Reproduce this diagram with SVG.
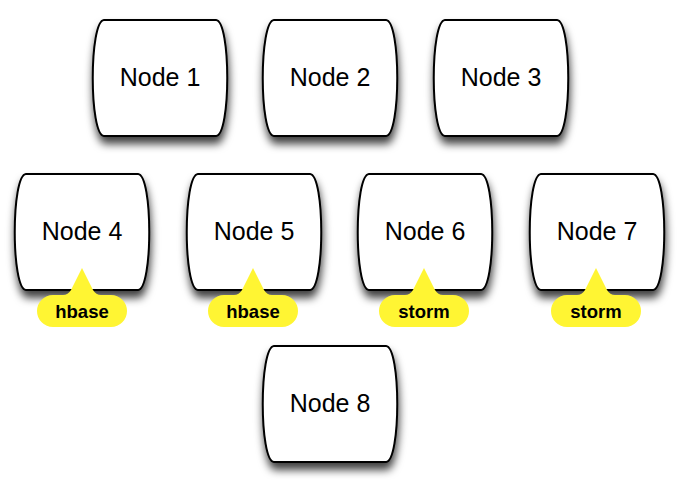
<svg xmlns="http://www.w3.org/2000/svg" width="684" height="492" viewBox="0 0 684 492">
<defs>
<filter id="sh" x="-20%" y="-20%" width="140%" height="150%">
<feDropShadow dx="1" dy="7" stdDeviation="4" flood-color="#000" flood-opacity="0.75"/>
</filter>
<path id="barrel" d="M11,0 H123 C138,1 138,115 123,116 H11 C-4,115 -4,1 11,0 Z"/>
<path id="tag" d="M-29,27 H-19 Q-14,27 -11,22 L0,0 L11,22 Q14,27 19,27 H29 A16,16 0 0 1 29,59 H-29 A16,16 0 0 1 -29,27 Z"/>
</defs>
<style>
.node{fill:#fff;stroke:#000;stroke-width:2;filter:url(#sh)}
.lbl{font-family:"Liberation Sans",Arial,sans-serif;font-size:25px;text-anchor:middle;fill:#000}
.tag{fill:#fff533}
.tl{font-family:"Liberation Sans",Arial,sans-serif;font-size:18.5px;font-weight:bold;text-anchor:middle;fill:#000}
</style>
<rect width="684" height="492" fill="#fff"/>
<g id="node1" transform="translate(93,20)"><use href="#barrel" class="node"/><text class="lbl" x="67" y="66">Node 1</text></g>
<g id="node2" transform="translate(263,20)"><use href="#barrel" class="node"/><text class="lbl" x="67" y="66">Node 2</text></g>
<g id="node3" transform="translate(434,20)"><use href="#barrel" class="node"/><text class="lbl" x="67" y="66">Node 3</text></g>
<g id="node4" transform="translate(15,174)"><use href="#barrel" class="node"/><text class="lbl" x="67" y="66">Node 4</text></g>
<g id="node5" transform="translate(187,174)"><use href="#barrel" class="node"/><text class="lbl" x="67" y="66">Node 5</text></g>
<g id="node6" transform="translate(358,174)"><use href="#barrel" class="node"/><text class="lbl" x="67" y="66">Node 6</text></g>
<g id="node7" transform="translate(530,174)"><use href="#barrel" class="node"/><text class="lbl" x="67" y="66">Node 7</text></g>
<g id="node8" transform="translate(263,346)"><use href="#barrel" class="node"/><text class="lbl" x="67" y="66">Node 8</text></g>
<g id="tag4" transform="translate(82,268)"><use href="#tag" class="tag"/><text class="tl" x="0" y="50">hbase</text></g>
<g id="tag5" transform="translate(253,268)"><use href="#tag" class="tag"/><text class="tl" x="0" y="50">hbase</text></g>
<g id="tag6" transform="translate(424,268)"><use href="#tag" class="tag"/><text class="tl" x="0" y="50">storm</text></g>
<g id="tag7" transform="translate(596,268)"><use href="#tag" class="tag"/><text class="tl" x="0" y="50">storm</text></g>
</svg>
